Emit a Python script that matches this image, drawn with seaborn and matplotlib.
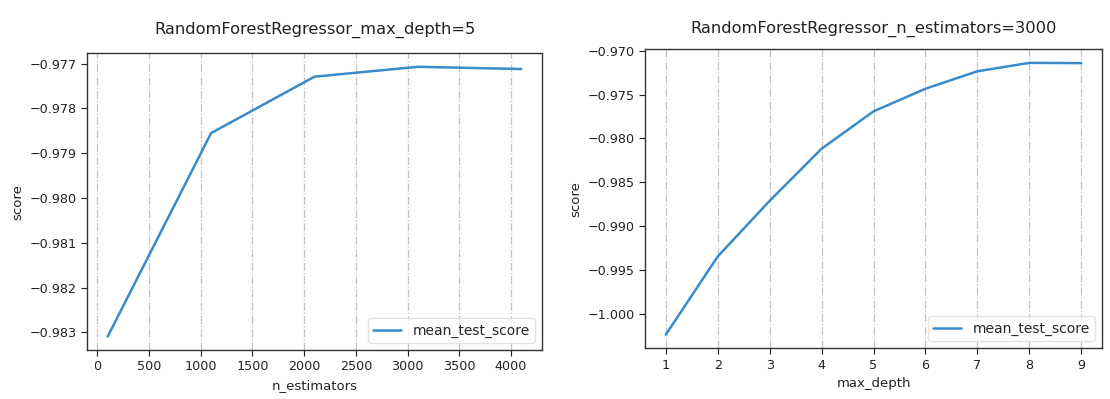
import pandas as pd
import seaborn as sns
from matplotlib import pyplot as plt

# values
n_estimators = [100, 1100, 2100, 3100, 4100]
score_by_estimators = [-0.98309, -0.97855, -0.97729, -0.97707, -0.97712]

max_depth = [1, 2, 3, 4, 5, 6, 7, 8, 9]
score_by_depth = [-1.00239, -0.99347, -0.98712, -0.98118, -0.97692,
                  -0.97434, -0.97235, -0.97139, -0.97142]

titles = ["RandomForestRegressor_max_depth=5", "RandomForestRegressor_n_estimators=3000"]
line_label = "mean_test_score"
line_color = "#3a8bc9"

sns.set_style("ticks")
plt.rcParams['font.family'] = ['DejaVu Sans']


def draw_panel(ax, x, y, xname, title, pad):
    df = pd.DataFrame({xname: x, "score": y})
    sns.lineplot(data=df, x=xname, y="score", ax=ax, color=line_color,
                 linewidth=1.8, label=line_label)
    ax.grid(axis="x", linestyle="-.", color="#c4c4c4", linewidth=0.9)
    ax.grid(axis="y", visible=False)
    ax.set_title(title, fontsize=11.7, pad=pad, color="#222222")
    ax.set_xlabel(xname, fontsize=9.5, color="#222222")
    ax.set_ylabel("score", fontsize=9.5, color="#222222")
    ax.tick_params(labelsize=9.2, colors="#222222", length=4)
    for s in ax.spines.values():
        s.set_color("#333333")
        s.set_linewidth(1.0)
    ax.legend(loc="lower right", fontsize=10, frameon=True, edgecolor="#dddddd")


fig = plt.figure(figsize=(11.1, 3.99), dpi=100)
ax1 = fig.add_axes([0.0784, 0.1228, 0.4099, 0.7436])
ax2 = fig.add_axes([0.5811, 0.1271, 0.4117, 0.7494])

draw_panel(ax1, n_estimators, score_by_estimators, "n_estimators", titles[0], 14)
ax1.set_xticks(range(0, 4001, 500))

draw_panel(ax2, max_depth, score_by_depth, "max_depth", titles[1], 12)
ax2.set_xticks(max_depth)

plt.savefig("out.png", dpi=100)
